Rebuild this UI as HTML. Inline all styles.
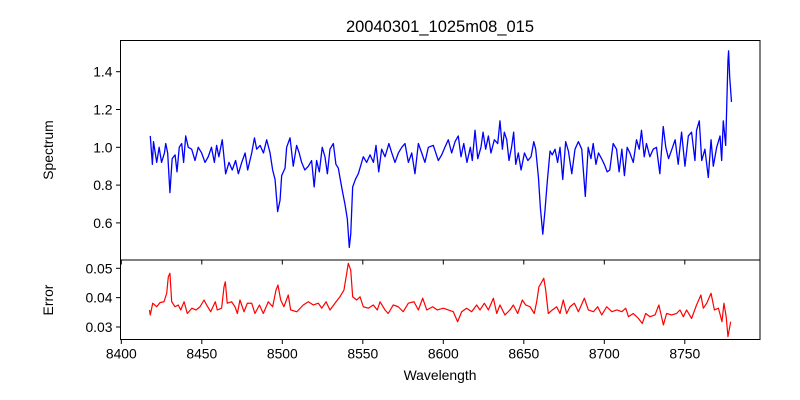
<!DOCTYPE html>
<html><head><meta charset="utf-8"><style>
html,body{margin:0;padding:0;background:#fff;}
svg{display:block;font-family:"Liberation Sans","DejaVu Sans",sans-serif;}
</style></head><body>
<svg id="chart" width="800" height="400" viewBox="0 0 800 400" xmlns="http://www.w3.org/2000/svg">
<rect x="0" y="0" width="800" height="400" fill="#fff"/>
<text x="440" y="32" font-size="16.5" text-anchor="middle" fill="#000">20040301_1025m08_015</text>
<g id="top-panel"></g>
<g id="bot-panel"></g>
<text transform="translate(53,150) rotate(-90)" font-size="13.9" text-anchor="middle" fill="#000">Spectrum</text>
<text transform="translate(53,300) rotate(-90)" font-size="13.9" text-anchor="middle" fill="#000">Error</text>
<text x="440" y="380" font-size="13.9" text-anchor="middle" fill="#000">Wavelength</text>
</svg>
<script>
const specWave=[8418,8419.3,8420,8422,8423.5,8425,8426.8,8427.6,8428.8,8430.2,8431.6,8433.4,8434.6,8436,8437.5,8438.7,8440,8441.6,8443.7,8445.8,8447.8,8449.9,8452,8454,8456,8457.8,8459.2,8460.6,8462.7,8464.8,8466.9,8468.9,8471,8472.7,8474.8,8476.9,8478.5,8481,8482.7,8484.1,8486.2,8488.3,8490.3,8492.4,8494,8495.5,8497.1,8498.6,8499.6,8501.7,8502.7,8504.8,8506.8,8508.9,8510.5,8512,8514,8516.2,8518.2,8519.8,8521.3,8523,8524.8,8526.5,8528,8529.6,8531.7,8533.3,8534.8,8535.8,8537.5,8538.9,8540.4,8541.6,8542.5,8543.7,8545.4,8547.2,8548.6,8550.3,8552.4,8554.5,8556.6,8558.2,8559.9,8561.7,8563.8,8566.2,8568,8570,8572.1,8574.2,8576.2,8578.3,8580.4,8582.4,8584.5,8586.6,8588.6,8590.7,8593.8,8596.9,8599,8601,8603.1,8605.2,8607.3,8609.3,8611,8612.7,8614.7,8616.8,8618,8619.7,8621.4,8623.4,8624.7,8626.3,8628,8629.6,8631.7,8633.8,8635.2,8636.7,8637.9,8639.4,8640.8,8642.4,8643.7,8645,8646.6,8648.3,8650.4,8652.5,8654.5,8656.2,8657.4,8659.1,8660.3,8661.8,8663.2,8664.6,8666.3,8667.7,8669.4,8671,8672.5,8674.2,8676,8677.7,8679.8,8681.8,8683.9,8686,8688.2,8690,8691.7,8693.1,8694.8,8696.4,8698.3,8700,8701.8,8703.4,8705.5,8707.6,8709.2,8710.9,8712.5,8714.2,8715.9,8718,8720,8721.7,8723.1,8724.8,8726.2,8728.3,8730.4,8732.4,8734.5,8736.6,8738.2,8739.9,8742,8744,8745.9,8748,8750.1,8752.2,8754.2,8756.3,8757.3,8759,8760.5,8762.5,8764.6,8766.3,8767.7,8769.8,8771.9,8772.9,8773.9,8775.4,8776.8,8777.2,8777.9,8779];
const specFlux=[1.06,0.91,1.03,0.92,1.0,0.92,0.97,1.02,0.97,0.76,0.94,0.96,0.87,1.0,1.02,0.92,1.06,1.0,0.99,0.93,1.0,0.97,0.92,0.95,1.0,0.92,1.01,0.95,1.04,0.86,0.92,0.88,0.93,0.86,0.92,0.97,0.88,0.97,1.05,0.99,1.01,0.97,1.04,0.97,0.88,0.83,0.66,0.72,0.85,0.89,1.0,1.05,0.90,1.01,0.97,0.92,0.88,0.90,0.93,0.79,0.93,0.87,1.0,0.95,0.86,0.99,1.02,0.91,0.89,0.84,0.76,0.70,0.62,0.47,0.54,0.79,0.83,0.86,0.90,0.95,0.92,0.96,0.92,1.01,0.87,0.99,0.95,1.02,0.97,0.92,0.97,1.0,1.02,0.92,0.97,0.86,1.02,0.97,0.92,1.0,1.01,0.93,0.96,1.0,1.04,0.97,1.03,1.06,0.95,1.02,0.92,1.0,0.93,1.09,0.94,1.0,1.08,0.99,1.06,0.97,1.04,1.02,1.14,0.99,1.08,1.04,0.93,1.0,1.08,0.91,0.97,0.88,0.97,0.93,0.95,1.03,0.99,0.84,0.68,0.54,0.67,0.82,0.98,0.96,0.99,0.92,1.0,0.83,1.03,0.98,0.86,0.99,1.03,0.99,0.74,1.0,0.94,1.02,0.91,0.97,0.94,0.91,0.87,0.88,1.02,0.99,0.87,0.99,0.85,1.0,0.97,0.92,1.04,0.99,1.09,0.95,1.02,0.95,0.99,1.0,0.86,1.11,1.0,0.94,0.99,1.04,0.91,1.08,0.90,1.06,1.08,0.93,1.09,1.14,0.93,0.99,0.84,1.04,0.90,1.0,1.06,0.93,1.14,1.01,1.46,1.51,1.37,1.24];
const errWave=[8417.5,8418,8419.5,8422,8424,8426.5,8428.2,8429.2,8430.2,8431.3,8433.4,8435.4,8436.9,8439,8441,8443.8,8446.4,8448.9,8451.4,8453,8455.5,8458.4,8459.6,8462.3,8463.8,8464.6,8465.8,8468.5,8470.6,8472.1,8473.7,8476.2,8478.3,8481,8483,8485.8,8488.2,8491.3,8494,8496.1,8497.3,8499,8501,8503.7,8505.2,8509,8513,8516.2,8519.3,8522.4,8524.5,8527.2,8529.6,8532.7,8535.8,8538.3,8540,8541,8542.5,8543.7,8546.2,8548.3,8550.3,8553.4,8556.5,8559,8560.7,8563.8,8565.8,8568.9,8572,8575.1,8578.3,8581.8,8584.5,8587.2,8589.7,8593.4,8596.3,8600,8603.1,8606.2,8608.9,8611.4,8614.5,8617.6,8620.7,8622.8,8625.5,8628,8631.1,8633.2,8635.2,8638.3,8641.4,8643.5,8646.2,8649.1,8651.2,8653.9,8656.5,8658,8659.4,8660.7,8662.4,8663.6,8665.2,8667.7,8670.4,8672.5,8674.5,8676.6,8678.7,8681.4,8683.9,8687.6,8690.1,8693.2,8695.9,8698.4,8701.5,8704.7,8707.8,8710.9,8713.3,8715,8718,8721.2,8723.6,8725.7,8728.4,8731.5,8733.9,8736.7,8738.7,8741.8,8744.9,8747,8749.1,8751.1,8754.2,8757.3,8760,8761.5,8763.6,8766.3,8768.4,8770.9,8773.1,8774.3,8775.7,8776.8,8778.5];
const errVal=[0.0358,0.0341,0.0381,0.0369,0.0383,0.0386,0.0415,0.0471,0.0483,0.0386,0.0369,0.0375,0.0358,0.0386,0.0346,0.0364,0.0358,0.0369,0.0392,0.0375,0.0352,0.0386,0.0358,0.0364,0.0437,0.0454,0.0381,0.0386,0.0369,0.0346,0.0392,0.0352,0.0381,0.0381,0.0346,0.0375,0.0346,0.0386,0.0369,0.0426,0.0443,0.0392,0.0369,0.0409,0.0358,0.0352,0.0375,0.0386,0.0375,0.0381,0.0364,0.0386,0.0358,0.0381,0.0403,0.0426,0.0483,0.0517,0.0494,0.0403,0.0392,0.0403,0.0369,0.0364,0.0375,0.0358,0.0386,0.0358,0.0346,0.0375,0.0369,0.0352,0.0381,0.0386,0.0358,0.0398,0.0358,0.0369,0.0358,0.0364,0.0358,0.0352,0.0318,0.0352,0.0364,0.0352,0.0375,0.0358,0.0381,0.0358,0.0398,0.0346,0.0375,0.0341,0.0358,0.0375,0.0346,0.0392,0.0375,0.0369,0.0346,0.0386,0.0437,0.0449,0.0466,0.0426,0.0346,0.0358,0.0369,0.0346,0.0392,0.0346,0.0369,0.0381,0.0352,0.0398,0.0358,0.0352,0.0369,0.0341,0.0369,0.0352,0.0358,0.0352,0.0364,0.0335,0.0346,0.0329,0.0312,0.0346,0.0335,0.0341,0.0375,0.0307,0.0346,0.0341,0.0346,0.0358,0.0335,0.0358,0.0329,0.0375,0.0409,0.0364,0.0381,0.0415,0.0358,0.0364,0.0318,0.0381,0.0335,0.0267,0.0318];
const xTicks=[8400,8450,8500,8550,8600,8650,8700,8750];
const specTicks=[0.6,0.8,1.0,1.2,1.4];
const specTickLabels=["0.6","0.8","1.0","1.2","1.4"];
const errTicks=[0.03,0.04,0.05];
const errTickLabels=["0.03","0.04","0.05"];

const NS="http://www.w3.org/2000/svg";
const L=120.5,R=760,T1=40.5,B1=260,B2=339.5;
const xS=w=>121.3+(w-8400)*1.61;
const ySpec=v=>147.3-(v-1.0)*189;
const yErr=v=>297.65-(v-0.04)*2935;
function mk(tag,attrs,parent){const e=document.createElementNS(NS,tag);for(const k in attrs)e.setAttribute(k,attrs[k]);parent.appendChild(e);return e;}
const topG=document.getElementById('top-panel'),botG=document.getElementById('bot-panel');

function pathOf(xs,ys,yf){const n=Math.min(xs.length,ys.length);let s='';for(let i=0;i<n;i++){s+=(i?'L':'M')+xS(xs[i]).toFixed(2)+','+yf(ys[i]).toFixed(2);}return s;}
const sp=mk('path',{d:pathOf(specWave,specFlux,ySpec),fill:'none',stroke:'#0000ff','stroke-width':1.3,'stroke-linejoin':'round'},topG);


const ep=mk('path',{d:pathOf(errWave,errVal,yErr),fill:'none',stroke:'#ff0000','stroke-width':1.2,'stroke-linejoin':'round'},botG);



const f1=mk('rect',{x:L,y:T1,width:R-L,height:B1-T1,fill:'none',stroke:'#000','stroke-width':1},topG);


const f2=mk('rect',{x:L,y:B1,width:R-L,height:B2-B1,fill:'none',stroke:'#000','stroke-width':1},botG);



specTicks.forEach((v,i)=>{const y=ySpec(v);
 mk('line',{x1:L-4.5,x2:L,y1:y,y2:y,stroke:'#000','stroke-width':1},topG);
 const t=mk('text',{x:L-8,y:y+5,'font-size':13.9,'text-anchor':'end',fill:'#000'},topG);
 
 
 t.textContent=specTickLabels[i];});
errTicks.forEach((v,i)=>{const y=yErr(v);
 mk('line',{x1:L-4.5,x2:L,y1:y,y2:y,stroke:'#000','stroke-width':1},botG);
 const t=mk('text',{x:L-8,y:y+5,'font-size':13.9,'text-anchor':'end',fill:'#000'},botG);
 
 
 t.textContent=errTickLabels[i];});
xTicks.forEach(w=>{const x=xS(w);
 mk('line',{x1:x,x2:x,y1:B2,y2:B2+4.5,stroke:'#000','stroke-width':1},botG);
 mk('line',{x1:x,x2:x,y1:B1,y2:B1+4.5,stroke:'#000','stroke-width':1},topG);
 const t=mk('text',{x:x,y:B2+19,'font-size':13.9,'text-anchor':'middle',fill:'#000'},botG);
 
 
 t.textContent=String(w);});
</script>
</body></html>
